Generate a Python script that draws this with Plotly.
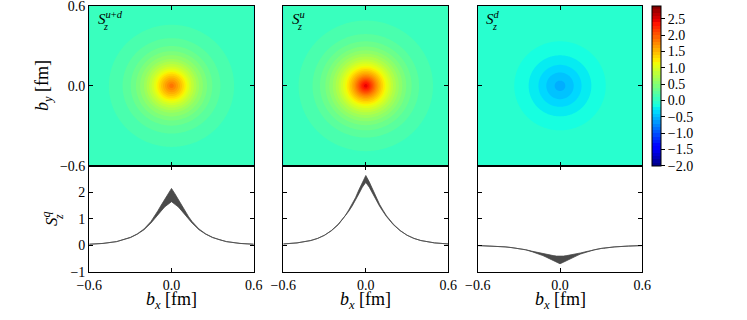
import numpy as np
import plotly.graph_objects as go

# ---------------- data ----------------
b_prof = [0.0, 0.025, 0.05, 0.075, 0.1, 0.125, 0.15, 0.2, 0.25, 0.3, 0.35, 0.4, 0.5, 0.6]

ud_upper = [2.15, 1.95, 1.72, 1.52, 1.30, 1.08, 0.90, 0.62, 0.43, 0.30, 0.21, 0.14, 0.07, 0.04]
ud_lower = [1.65, 1.55, 1.45, 1.30, 1.15, 0.98, 0.84, 0.59, 0.42, 0.29, 0.21, 0.14, 0.07, 0.04]

u_upper = [2.64, 2.40, 2.10, 1.80, 1.55, 1.33, 1.12, 0.80, 0.56, 0.38, 0.26, 0.18, 0.09, 0.05]
u_lower = [2.38, 2.20, 1.95, 1.70, 1.48, 1.28, 1.09, 0.78, 0.55, 0.38, 0.26, 0.18, 0.09, 0.05]

d_upper = [-0.42, -0.41, -0.39, -0.37, -0.35, -0.32, -0.29, -0.23, -0.17, -0.12, -0.09, -0.06, -0.03, -0.01]
d_lower = [-0.70, -0.64, -0.57, -0.51, -0.45, -0.39, -0.33, -0.25, -0.17, -0.12, -0.09, -0.06, -0.03, -0.01]

panel_labels = ["u+d", "u", "d"]
xy_ticks = [-0.6, 0.0, 0.6]
sq_ticks = [-1, 0, 1, 2]
cbar_ticks = [-2.0, -1.5, -1.0, -0.5, 0.0, 0.5, 1.0, 1.5, 2.0, 2.5]
cmin, cmax = -2.0, 2.9

# ---------------- helpers ----------------
W, H = 747, 320
def px(x):
    return x / W
def py(y):
    return 1 - y / H

# matplotlib "jet"
red = [(0, 0), (0.35, 0), (0.66, 1), (0.89, 1), (1, 0.5)]
green = [(0, 0), (0.125, 0), (0.375, 1), (0.64, 1), (0.91, 0), (1, 0)]
blue = [(0, 0.5), (0.11, 1), (0.34, 1), (0.65, 0), (1, 0)]
stops = sorted(set([p for p, _ in red + green + blue]))
def chan(seg, t):
    return np.interp(t, [p for p, _ in seg], [v for _, v in seg])
jet = [[t, "rgb(%d,%d,%d)" % (round(255 * chan(red, t)), round(255 * chan(green, t)), round(255 * chan(blue, t)))] for t in stops]

FONT = "Liberation Serif"

fig = go.Figure()

xdom = [(89.3, 253.7), (283.3, 448.3), (477.7, 642.3)]
top_y = (5.7, 166.0)
bot_y = (166.0, 271.7)

grid = np.linspace(-0.6, 0.6, 241)
X, Y = np.meshgrid(grid, grid)
R = np.sqrt(X ** 2 + Y ** 2)

profiles = [(ud_upper, ud_lower), (u_upper, u_lower), (d_upper, d_lower)]

b_arr = np.array(b_prof)
b_full = np.concatenate([-b_arr[::-1], b_arr[1:]])

for i, (up, lo) in enumerate(profiles):
    up = np.array(up)
    lo = np.array(lo)
    mid = 0.5 * (up + lo)
    Z = np.interp(R, b_arr, mid)
    xa_top = "x%d" % (2 * i + 1)
    ya_top = "y%d" % (2 * i + 1)
    xa_bot = "x%d" % (2 * i + 2)
    ya_bot = "y%d" % (2 * i + 2)
    fig.add_trace(go.Contour(
        x=grid, y=grid, z=Z,
        xaxis=xa_top, yaxis=ya_top,
        colorscale=jet, zmin=cmin, zmax=cmax,
        contours=dict(start=cmin, end=cmax, size=0.1, coloring="fill", showlines=False),
        line=dict(width=0),
        showscale=(i == 2),
        hoverinfo="skip",
        colorbar=dict(
            x=px(652.3), xanchor="left", y=py(5.7), yanchor="top",
            lenmode="pixels", len=160, thicknessmode="pixels", thickness=9,
            xpad=0, ypad=0,
            outlinewidth=1, outlinecolor="black",
            tickvals=cbar_ticks, tickformat=".1f", ticks="outside", ticklen=4,
            tickcolor="black", tickfont=dict(family=FONT, size=14, color="black"),
        ),
    ))
    up_full = np.concatenate([up[::-1], up[1:]])
    lo_full = np.concatenate([lo[::-1], lo[1:]])
    fig.add_trace(go.Scatter(x=b_full, y=lo_full, mode="lines",
                             line=dict(color="#4a4a4a", width=0.8),
                             xaxis=xa_bot, yaxis=ya_bot, showlegend=False))
    fig.add_trace(go.Scatter(x=b_full, y=up_full, mode="lines", fill="tonexty",
                             fillcolor="#4a4a4a",
                             line=dict(color="#4a4a4a", width=0.8),
                             xaxis=xa_bot, yaxis=ya_bot, showlegend=False))

axis_common = dict(showline=True, linecolor="black", linewidth=1.3, mirror="ticks",
                   ticks="inside", ticklen=4, tickwidth=1, tickcolor="black",
                   showgrid=False, zeroline=False, automargin=False,
                   ticklabeloverflow="allow",
                   tickfont=dict(family=FONT, size=14, color="black"))

R6 = [-0.6001, 0.6001]
layout = {}
for i in range(3):
    x0, x1 = xdom[i]
    kt = "" if i == 0 else str(2 * i + 1)
    kb = str(2 * i + 2)
    layout["xaxis" + kt] = dict(axis_common, domain=[px(x0), px(x1)], range=R6,
                                tickvals=xy_ticks, showticklabels=False,
                                anchor="y" + kt)
    layout["yaxis" + kt] = dict(axis_common, domain=[py(top_y[1]), py(top_y[0])], range=R6,
                                tickvals=xy_ticks, tickformat=".1f", showticklabels=(i == 0),
                                anchor="x" + kt)
    layout["xaxis" + kb] = dict(axis_common, domain=[px(x0), px(x1)], range=R6,
                                tickvals=xy_ticks, tickformat=".1f", showticklabels=True,
                                anchor="y" + kb)
    layout["yaxis" + kb] = dict(axis_common, domain=[py(bot_y[1]), py(bot_y[0])], range=[-1, 3],
                                tickvals=sq_ticks, showticklabels=(i == 0),
                                anchor="x" + kb)

fig.update_layout(**layout)

ann = []
# panel labels
for i, lab in enumerate(panel_labels):
    x0 = xdom[i][0]
    sup = "+".join("<i>%s</i>" % s for s in lab.split("+"))
    ann.append(dict(x=px(x0 + 6.5), y=py(17.5), xref="paper", yref="paper",
                    xanchor="left", yanchor="middle", showarrow=False,
                    text="<i>S</i><sup>%s</sup>" % sup,
                    font=dict(family=FONT, size=15, color="black")))
    ann.append(dict(x=px(x0 + 16.5), y=py(26.5), xref="paper", yref="paper",
                    xanchor="center", yanchor="middle", showarrow=False,
                    text="<i>z</i>", font=dict(family=FONT, size=10, color="black")))
    # x axis title
    xc = 0.5 * (xdom[i][0] + xdom[i][1])
    ann.append(dict(x=px(xc), y=py(300), xref="paper", yref="paper",
                    xanchor="center", yanchor="middle", showarrow=False,
                    text="<i>b</i><sub><i>x</i></sub> [fm]",
                    font=dict(family=FONT, size=18, color="black")))

ann.append(dict(x=px(43), y=py(86), xref="paper", yref="paper",
                xanchor="center", yanchor="middle", showarrow=False, textangle=-90,
                text="<i>b</i><sub><i>y</i></sub> [fm]",
                font=dict(family=FONT, size=18, color="black")))
ann.append(dict(x=px(50), y=py(219), xref="paper", yref="paper",
                xanchor="center", yanchor="middle", showarrow=False, textangle=-90,
                text="<i>S</i><sup><i>q</i></sup>",
                font=dict(family=FONT, size=17, color="black")))
ann.append(dict(x=px(59), y=py(217), xref="paper", yref="paper",
                xanchor="center", yanchor="middle", showarrow=False, textangle=-90,
                text="<i>z</i>", font=dict(family=FONT, size=12, color="black")))

fig.update_layout(
    width=W, height=H, margin=dict(l=0, r=0, t=0, b=0),
    paper_bgcolor="white", plot_bgcolor="white",
    showlegend=False, annotations=ann, hovermode=False,
)

fig.write_html("out.html", config={"displayModeBar": False},
               post_script="document.body.style.margin='0';document.body.style.padding='0';")
